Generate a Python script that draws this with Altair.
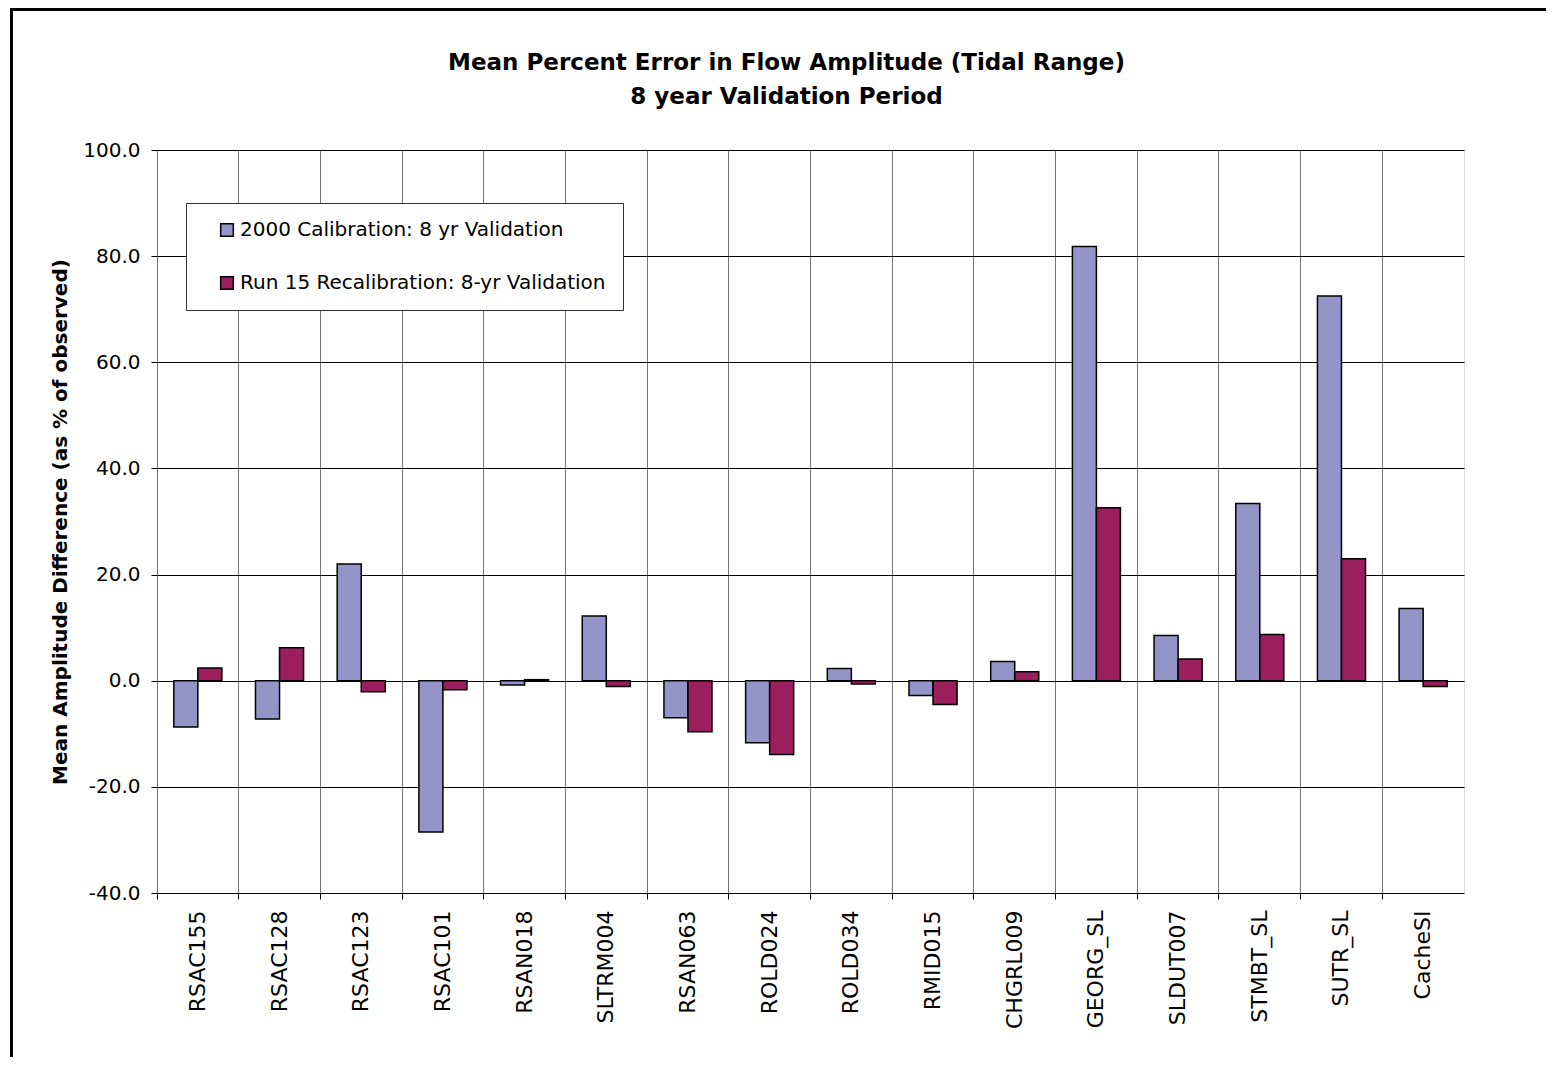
import altair as alt
import pandas as pd

categories = ["RSAC155", "RSAC128", "RSAC123", "RSAC101", "RSAN018", "SLTRM004",
              "RSAN063", "ROLD024", "ROLD034", "RMID015", "CHGRL009", "GEORG_SL",
              "SLDUT007", "STMBT_SL", "SUTR_SL", "CacheSI"]
series_names = ["2000 Calibration: 8 yr Validation",
                "Run 15 Recalibration: 8-yr Validation"]
calib_2000 = [-8.7, -7.2, 22.0, -28.5, -0.8, 12.2, -7.0, -11.7, 2.3, -2.8, 3.6,
              81.8, 8.5, 33.4, 72.5, 13.6]
run15_recal = [2.4, 6.2, -2.1, -1.7, 0.2, -1.1, -9.6, -13.9, -0.6, -4.5, 1.7,
               32.6, 4.1, 8.7, 23.0, -1.1]
y_ticks = [-40, -20, 0, 20, 40, 60, 80, 100]
colors = ["#9494C9", "#9A1F5C"]

rows = []
for i, c in enumerate(categories):
    rows.append({"station": c, "series": series_names[0], "value": calib_2000[i]})
    rows.append({"station": c, "series": series_names[1], "value": run15_recal[i]})
df = pd.DataFrame(rows)

W, H = 1307, 743
FONT = "DejaVu Sans"

bars = alt.Chart(df).mark_bar(stroke="black", strokeWidth=1.5).encode(
    x=alt.X("station:N", sort=categories,
            scale=alt.Scale(paddingInner=0, paddingOuter=0),
            axis=alt.Axis(title=None, labelAngle=-90, labelFontSize=22,
                          labelPadding=11, tickSize=6, tickColor="black",
                          domain=False, grid=True, gridColor="#777777",
                          gridWidth=1, bandPosition=0, labelBaseline="middle",
                          labelColor="black", labelFont=FONT)),
    xOffset=alt.XOffset("series:N", sort=series_names,
                        scale=alt.Scale(paddingInner=0, paddingOuter=0.7)),
    y=alt.Y("value:Q", scale=alt.Scale(domain=[-40, 100], nice=False, zero=False),
            axis=alt.Axis(title="Mean Amplitude Difference (as % of observed)",
                          values=y_ticks,
                          labelExpr="datum.value < 0 ? '-' + format(-datum.value, '.1f') : format(datum.value, '.1f')",
                          labelFontSize=20, labelPadding=11, tickSize=6,
                          tickColor="black", domain=False, grid=True,
                          gridColor="black", gridWidth=1, titleFontSize=20,
                          titleFontWeight="bold", titlePadding=12,
                          labelColor="black", titleColor="black",
                          labelFont=FONT, titleFont=FONT)),
    color=alt.Color("series:N", sort=series_names,
                    scale=alt.Scale(domain=series_names, range=colors),
                    legend=alt.Legend(title=None, orient="none", legendX=29, legendY=53,
                                      direction="vertical", symbolType="square",
                                      symbolSize=160, symbolStrokeColor="black",
                                      symbolStrokeWidth=1.5, labelFontSize=20,
                                      labelFont=FONT, labelColor="black",
                                      padding=17, rowPadding=33, symbolOffset=14,
                                      labelOffset=3, strokeColor="#333333",
                                      fillColor="white", labelLimit=600)),
)

border = alt.Chart(alt.Data(values=[{}])).mark_rect(
    fill=None, stroke="black", strokeWidth=3
).encode(
    x=alt.value(-145.5), x2=alt.value(W + 200),
    y=alt.value(-140.5), y2=alt.value(H + 300),
)

chart = alt.layer(bars, border).properties(
    width=W, height=H,
    autosize=alt.AutoSizeParams(type="none"),
    padding={"left": 149, "top": 142, "right": 82, "bottom": 164},
    title=alt.TitleParams(
        text=["Mean Percent Error in Flow Amplitude (Tidal Range)",
              "8 year Validation Period"],
        fontSize=23, fontWeight="bold", font=FONT, color="black",
        anchor="middle", frame="group", lineHeight=34, offset=0, dx=-24, dy=101,
    ),
).configure_view(stroke="black", strokeWidth=2).configure(background="white")

chart.save("out.html", embed_options={"renderer": "svg", "actions": False})
